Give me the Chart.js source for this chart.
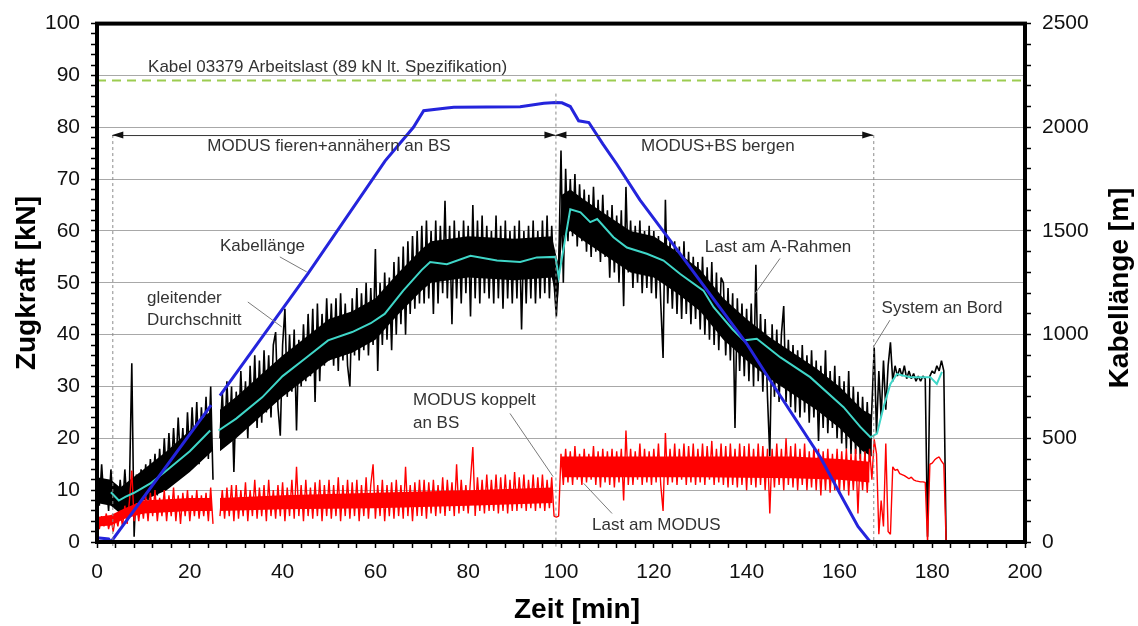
<!DOCTYPE html>
<html>
<head>
<meta charset="utf-8">
<script src="https://cdn.jsdelivr.net/npm/chart.js@4.4.1/dist/chart.umd.min.js"></script>
<style>
html, body { margin: 0; background: #fff; }
</style>
</head>
<body>
<canvas id="zugChart" width="1138" height="626"></canvas>
<script>
// sample spacing of the two load records [min]
const loadStep = 0.5;

// Last am A-Rahmen [kN], one value every 0.5 min from t = 0
const loadAFrame = [
    13, 7, 15, 8, 12, 6, 14, 7, 11, 6,
    12, 6, 14, 7, 11, 34.5, 1, 13, 8, 14,
    9, 15, 8, 16, 10, 17, 9, 18, 11, 20,
    12, 21, 13, 22, 14, 24, 15, 22, 13, 25,
    16, 26, 17, 27, 15, 26, 18, 28, 16, 30,
    12, null, null, 20, 29, 19, 31, 20, 30, 13.5,
    29, 21, 33, 22, 31, 20, 34, 23, 36, 22,
    35, 23, 37, 25, 36, 24, 38, 40.5, 26, 20.5,
    38, 45, 28, 40, 29, 41, 21.5, 39, 30, 42,
    31, 44, 32, 45, 27, 46, 31, 44, 34, 47,
    35, 46, 34, 47, 33, 48, 35, 46, 34, 30,
    47, 36, 49, 35, 48, 37, 50, 36, 49, 38,
    56.5, 33, 50, 38, 52, 39, 51, 37, 54, 40,
    55, 42, 57, 40, 58, 44, 59, 45, 60, 46,
    61, 46, 62, 47, 60, 44, 62, 46, 61, 48,
    65.8, 47, 61, 42, 62, 47, 60, 46, 62, 48,
    61, 43.5, 65, 47, 62, 46, 63, 48, 61, 47,
    60, 46, 63, 47, 61, 45, 62, 47, 60, 46,
    61, 47, 62, 41, 60, 46, 61, 47, 62, 46,
    60, 47, 62, 48, 63, 47, 61, 50, 43.5, 53,
    75.5, 50, 72, 58, 70, 59, 71, 57, 69, 58,
    68, 56, 67, 55, 68.5, 56, 66, 54, 67, 55,
    64, 51, 65, 52, 63, 50, 64, 45.5, 68.5, 52,
    62, 49, 61, 50, 62, 48, 60, 49, 61, 48,
    60, 47, 59, 46, 35.5, 66, 46, 58, 45, 58,
    44, 57, 43, 58, 44, 56, 42, 55, 43, 54,
    41, 55, 40, 53, 39, 54, 38, 52, 37, 51,
    50, 36, 49, 35, 48, 22, 47, 33, 46, 32,
    45, 31, 46, 30, 53.5, 31, 44, 29, 43, 28,
    16.5, 42, 28, 41, 27, 40, 45.5, 27, 39, 26,
    38, 25, 37, 24, 38, 25, 36, 23, 37, 24,
    35, 19.5, 34, 22, 37, 21, 33, 22, 34, 20,
    32, 19, 31, 18, 33, 17, 30, 17, 29, 16,
    28, 16, 27, 15.5, 26, 37.5, 21, 33, 24, 35,
    25.5, 34, 38.5, 31, 34, 32, 33.5, 32, 34, 31.5,
    33, 31.5, 32.5, 31, 32, 31, 32, 31.5, 1, 32,
    33, 32.5, 34, 33, 35, 33, 0
];

// dense core of the A-Rahmen record (where the trace is solid black)
const coreTime = [0, 3, 5, 10, 15, 20, 24.8, 25.5, 26.5, 30, 35, 40, 45, 50, 55, 60, 65, 70, 72, 80, 90, 98, 99.3, 100.2, 102, 105, 110, 115, 120, 125, 130, 135, 140, 145, 150, 155, 160, 165, 167];
const coreLow = [7.5, 7, 5.5, 8, 10, 13.5, 17.5, null, 17.5, 20, 24, 28, 31.5, 35, 36.5, 39, 44, 48.5, 50, 51, 50.5, 51, 46, 59, 60, 58, 55, 52, 51, 48, 44.5, 39, 35, 31.5, 28.5, 25.5, 22, 17.5, 16.5];
const coreHigh = [12.5, 12, 10.5, 14, 17.5, 21.5, 25.5, null, 25.5, 28, 32, 36, 39.5, 43, 44.5, 47, 52, 56.5, 58, 59, 58.5, 59, 54, 67, 68, 66, 63, 60, 59, 56, 52.5, 47, 43, 39.5, 36.5, 33.5, 30, 25.5, 24.5];

// Last am MODUS [kN], same time base
const loadModus = [
    4, 2.5, 5, 3, 5.5, 2.5, 4.5, 2, 5, 3,
    6, 3, 7, 3.5, 8, 13.8, 4, 7.5, 4, 8,
    4.5, 9, 4, 9.5, 5, 10, 4, 8.5, 5, 10,
    4, 9, 5, 10.5, 4, 9, 3.5, 9.5, 5, 10,
    4, 9, 5, 10, 4.5, 9, 5, 9.5, 4, 10.5,
    3.5, null, null, 5, 10, 4.5, 10.5, 5, 11, 4,
    11, 4.5, 10, 5, 11.5, 4, 10, 5, 12, 4.5,
    10.5, 5, 11, 4, 12, 5, 10, 4.5, 11, 5,
    11.5, 4, 10.5, 5, 12, 4.5, 14.5, 5, 11, 4,
    12, 5, 10.5, 4.5, 11.5, 5, 12, 4, 11, 5,
    12, 4.5, 11, 5, 12.5, 4, 11, 5, 12, 4.5,
    11.5, 5, 12, 4, 11, 5, 12.5, 4.5, 11, 15,
    4.5, 11, 5, 12, 4, 11, 5, 11.5, 4.5, 12,
    5, 11, 4.5, 14.5, 5, 11, 4, 11.5, 5, 12,
    5, 12, 4.5, 11.5, 5.5, 12, 5, 11, 5.5, 12.5,
    5, 12, 6, 11.5, 5, 15, 5.5, 12, 6, 11,
    5.5, 12, 18.3, 5, 12.5, 6, 12, 5.5, 13, 6,
    12, 6, 13, 5.5, 12.5, 6, 13, 5.5, 12, 6,
    13.5, 6, 12.5, 6.5, 13, 6, 12, 6.5, 13, 6,
    12.5, 6.5, 13, 6, 12, 6.5, 12.5, 5, 4.8, 5,
    17, 11, 18, 11.5, 17.5, 11, 18.5, 12, 17, 11,
    18, 11.5, 17, 12, 18.5, 11, 17.5, 10.5, 18, 11.5,
    17.5, 11, 18, 10.5, 17.5, 11.5, 18, 8, 21.5, 11,
    18, 11, 17.5, 12, 19, 11, 18, 11.5, 17.5, 11,
    18, 11.5, 19, 11, 6, 21, 11, 18, 11.5, 19,
    11, 18, 12, 19, 11, 18.5, 11.5, 19, 11, 18,
    11.5, 19, 11, 18.5, 12, 19.5, 11, 18, 11.5, 19,
    11, 18.5, 10.5, 19, 11, 18, 10.5, 19, 11, 18.5,
    10, 19, 11, 18, 10.5, 19, 11, 18.5, 10, 18,
    5.5, 18, 10.5, 19, 11, 18, 10, 20, 11, 18.5,
    10.5, 19, 10, 18, 11, 19, 10, 17.5, 10.5, 18.5,
    10, 18, 9, 17.5, 10, 18, 9.5, 17, 10, 18,
    9.5, 17.5, 10, 18, 9, 17, 10, 18, 5.5, 17,
    10, 17.5, 9.5, 18, 12, 19.8, 17, 1.5, 8, 3,
    19, 2, 1.5, 14.5, 13.8, 14, 13.2, 13, 12.8, 12.5,
    12.2, 12.5, 12, 11.8, 11.7, 11.6, 11.6, 11.5, 0, 15,
    15.2, 15.8, 16.2, 16.4, 15.6, 15, 0
];

// dense core of the MODUS record
const modusCoreTime = [0, 3, 6, 10, 20, 24.8, 25.5, 26.5, 40, 60, 80, 98.2, 99, 100.2, 110, 130, 150, 160, 166.5];
const modusCoreLow = [3, 3.2, 4.5, 5.5, 6, 6, null, 6, 6.3, 6.5, 7, 7.5, null, 12.5, 12.5, 12.5, 12.3, 12, 11.5];
const modusCoreHigh = [4.8, 5.2, 6.5, 8, 8.5, 8.5, null, 8.5, 9, 9.5, 10, 10.5, null, 16.5, 16.5, 16.5, 16.5, 16, 15.5];

// gleitender Durchschnitt
const avgTime = [3, 4.7, 6.1, 8, 11.5, 15, 20, 24.4, 25.3, 26.2, 30, 35.6, 40, 45, 49.8, 55, 59, 62, 66, 70, 71.8, 75.4, 80.5, 86.2, 91.2, 94.8, 98.8, 99.5, 102, 104.2, 106.3, 107.8, 111.3, 114.2, 118.5, 122.1, 125.7, 130.7, 132.9, 137, 139.4, 142.2, 147.3, 153.7, 160.9, 164.5, 166.7, 168.1, 169.5, 171, 172.4, 175.3, 179.6, 181, 182.1];
const avgLoad = [9.6, 8.0, 8.7, 9.5, 11.3, 13.8, 17.5, 21.5, null, 21.5, 23.8, 27.9, 32, 35.5, 38.9, 40.5, 42.2, 44, 48.5, 52.5, 54, 53.6, 55.2, 54.3, 54, 54.9, 55, 51.1, 64.2, 63.6, 61.7, 62.3, 58.8, 56.8, 55.6, 54.3, 51.7, 48.5, 45.3, 41, 38.9, 39.2, 35.6, 31.8, 26, 22.2, 20.2, 20.9, 26, 30.5, 32.4, 31.8, 31.8, 30.5, 32.8];

// Kabellänge [m]
const cableTime = [0, 2.5, 3.0, 24.6, 25.5, 26.5, 45.5, 62.1, 68.2, 70.4, 75.4, 76.9, 91.2, 96.3, 98.8, 100.2, 102, 103.8, 106, 109, 112, 117, 123.6, 140, 145.1, 155.9, 160.9, 164, 166.5, 167, 185];
const cableLength = [20, 15, 0, 660, null, 706, 1295, 1838, 2000, 2080, 2093, 2096, 2099, 2116, 2120, 2118, 2100, 2031, 2023, 1920, 1823, 1650, 1452, 957, 779, 409, 201, 75, 5, 0, 0];

// Arbeitslast laut Spezifikation [kN]
const workLoad = 89;

const FONT = '"Liberation Sans", Arial, sans-serif';

const asPoints = (xs, ys) => ys.map((v, i) => ({ x: xs[i], y: v }));
const stepPoints = ys => ys.map((v, i) => ({ x: i * loadStep, y: v }));

const notes = {
    id: 'notes',
    afterDatasetsDraw(chart) {
        const { ctx, chartArea: a, scales: { x, y } } = chart;
        const px = v => x.getPixelForValue(v);
        const py = v => y.getPixelForValue(v);
        ctx.save();

        // dotted phase borders
        ctx.strokeStyle = '#8a8a8a';
        ctx.lineWidth = 1;
        ctx.setLineDash([3, 3]);
        [[3.3, 78.5], [98.8, 86.5], [167.3, 78.5]].forEach(([t, top]) => {
            ctx.beginPath();
            ctx.moveTo(px(t) + 0.5, py(top));
            ctx.lineTo(px(t) + 0.5, py(0) + 6);
            ctx.stroke();
        });
        ctx.setLineDash([]);

        // phase arrows
        const arrowY = py(78.5);
        ctx.strokeStyle = '#333';
        ctx.fillStyle = '#111';
        const head = (xp, dir) => {
            ctx.beginPath();
            ctx.moveTo(xp, arrowY);
            ctx.lineTo(xp - dir * 11, arrowY - 3.5);
            ctx.lineTo(xp - dir * 11, arrowY + 3.5);
            ctx.closePath();
            ctx.fill();
        };
        [[3.3, 98.8], [98.8, 167.3]].forEach(([t0, t1]) => {
            ctx.beginPath();
            ctx.moveTo(px(t0), arrowY + 0.5);
            ctx.lineTo(px(t1), arrowY + 0.5);
            ctx.stroke();
            head(px(t0), -1);
            head(px(t1), 1);
        });

        // leader lines
        ctx.strokeStyle = '#7a7a7a';
        ctx.lineWidth = 1;
        [
            [39.4, 55.0, 45.2, 52.1],
            [32.5, 46.3, 39.8, 41.5],
            [147.2, 54.7, 141.8, 47.9],
            [170.9, 42.8, 167.3, 37.6],
            [89.0, 24.8, 98.3, 12.6],
            [104.9, 11.3, 111.0, 5.5]
        ].forEach(([x0, y0, x1, y1]) => {
            ctx.beginPath();
            ctx.moveTo(px(x0), py(y0));
            ctx.lineTo(px(x1), py(y1));
            ctx.stroke();
        });

        // texts
        ctx.fillStyle = '#333';
        ctx.font = '17px ' + FONT;
        ctx.textBaseline = 'middle';
        ctx.textAlign = 'left';
        [
            ['Kabel 03379 Arbeitslast (89 kN lt. Spezifikation)', 11.0, 91.5],
            ['Kabellänge', 26.5, 57.0],
            ['gleitender', 10.8, 47.0],
            ['Durchschnitt', 10.8, 42.8],
            ['Last am A-Rahmen', 131.0, 56.9],
            ['System an Bord', 169.1, 45.1],
            ['MODUS koppelt', 68.1, 27.4],
            ['an BS', 68.1, 22.9],
            ['Last am MODUS', 106.7, 3.3]
        ].forEach(([s, t, v]) => ctx.fillText(s, px(t), py(v)));
        ctx.textAlign = 'center';
        ctx.fillText('MODUS fieren+annähern an BS', px(50.0), py(76.3));
        ctx.fillText('MODUS+BS bergen', px(133.8), py(76.3));

        // frame
        ctx.strokeStyle = '#000';
        ctx.lineWidth = 4;
        ctx.strokeRect(a.left, a.top, a.right - a.left, a.bottom - a.top);

        // axis titles
        ctx.fillStyle = '#000';
        ctx.font = 'bold 28px ' + FONT;
        ctx.textAlign = 'center';
        ctx.fillText('Zeit [min]', 577, 610);
        ctx.save();
        ctx.translate(27, 283);
        ctx.rotate(-Math.PI / 2);
        ctx.fillText('Zugkraft [kN]', 0, 0);
        ctx.restore();
        ctx.save();
        ctx.translate(1120, 288);
        ctx.rotate(-Math.PI / 2);
        ctx.fillText('Kabellänge [m]', 0, 0);
        ctx.restore();

        ctx.restore();
    }
};

const tickFont = { family: FONT, size: 21 };
const band = (data, color, fill) => ({
    data, yAxisID: 'y', borderWidth: 0, borderColor: color,
    backgroundColor: color, pointRadius: 0, fill, spanGaps: false
});

new Chart(document.getElementById('zugChart').getContext('2d'), {
    type: 'line',
    data: {
        datasets: [
            {
                label: 'Kabellänge',
                data: asPoints(cableTime, cableLength),
                yAxisID: 'y2',
                borderColor: '#2424dc',
                borderWidth: 3,
                pointRadius: 0,
                tension: 0
            },
            {
                label: 'gleitender Durchschnitt',
                data: asPoints(avgTime, avgLoad),
                yAxisID: 'y',
                borderColor: '#3fd6c8',
                borderWidth: 2,
                pointRadius: 0
            },
            {
                label: 'Last am MODUS',
                data: stepPoints(loadModus),
                yAxisID: 'y',
                borderColor: '#ff0000',
                borderWidth: 1.4,
                borderJoinStyle: 'bevel',
                pointRadius: 0
            },
            band(asPoints(modusCoreTime, modusCoreLow), '#ff0000', false),
            band(asPoints(modusCoreTime, modusCoreHigh), '#ff0000', '-1'),
            {
                label: 'Last am A-Rahmen',
                data: stepPoints(loadAFrame),
                yAxisID: 'y',
                borderColor: '#000000',
                borderWidth: 1.6,
                borderJoinStyle: 'bevel',
                pointRadius: 0
            },
            band(asPoints(coreTime, coreLow), '#000000', false),
            band(asPoints(coreTime, coreHigh), '#000000', '-1'),
            {
                label: 'Arbeitslast',
                data: [{ x: 0, y: workLoad }, { x: 200, y: workLoad }],
                yAxisID: 'y',
                borderColor: '#9ccc50',
                borderWidth: 2,
                borderDash: [9, 6],
                pointRadius: 0
            }
        ]
    },
    options: {
        responsive: false,
        animation: false,
        spanGaps: false,
        layout: { padding: { top: 23, left: 0, right: 0, bottom: 0 } },
        scales: {
            x: {
                type: 'linear',
                min: 0,
                max: 200,
                afterFit: s => { s.height = 84; },
                border: { display: false },
                grid: { drawOnChartArea: false, tickLength: 6, tickColor: '#000', tickWidth: 1.5 },
                ticks: {
                    stepSize: 4,
                    autoSkip: false,
                    maxRotation: 0,
                    padding: 12,
                    color: '#111',
                    font: tickFont,
                    callback: v => v % 20 === 0 ? v : ''
                }
            },
            y: {
                position: 'left',
                min: 0,
                max: 100,
                afterFit: s => { s.width = 97; },
                border: { display: false },
                grid: {
                    color: c => c.tick && c.tick.value % 10 === 0 ? '#a8a8a8' : 'rgba(0,0,0,0)',
                    tickColor: '#000',
                    tickLength: 6,
                    tickWidth: 1.5
                },
                ticks: {
                    stepSize: 2,
                    autoSkip: false,
                    padding: 11,
                    color: '#111',
                    font: tickFont,
                    callback: v => v % 10 === 0 ? v : ''
                }
            },
            y2: {
                position: 'right',
                min: 0,
                max: 2500,
                afterFit: s => { s.width = 113; },
                border: { display: false },
                grid: { drawOnChartArea: false, tickColor: '#000', tickLength: 6, tickWidth: 1.5 },
                ticks: {
                    stepSize: 100,
                    autoSkip: false,
                    padding: 11,
                    color: '#111',
                    font: tickFont,
                    callback: v => v % 500 === 0 ? v : ''
                }
            }
        },
        plugins: {
            legend: { display: false },
            tooltip: { enabled: false }
        }
    },
    plugins: [notes]
});
</script>
</body>
</html>
